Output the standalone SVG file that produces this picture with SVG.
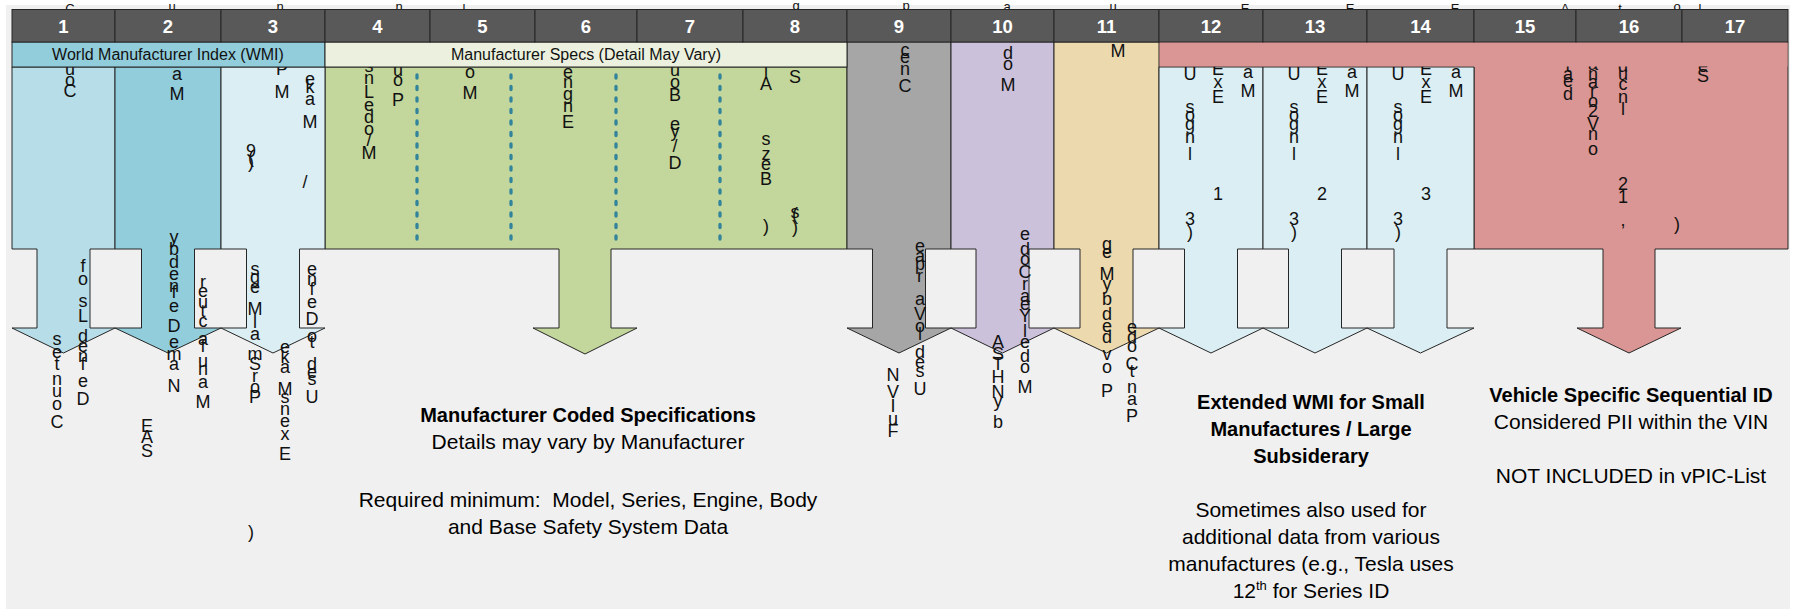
<svg xmlns="http://www.w3.org/2000/svg" width="1793" height="609" viewBox="0 0 1793 609">
<style>
.ar{stroke:#262626;stroke-width:1;stroke-linejoin:miter}
.g{font-family:'Liberation Sans',Arial,sans-serif;font-size:18px;fill:#111;text-anchor:middle}
.tf{font-size:13px}
.hd{fill:#595959;stroke:#262626;stroke-width:1}
.hn{font-family:'Liberation Sans',Arial,sans-serif;font-size:18.5px;font-weight:bold;fill:#fff;text-anchor:middle}
.lb{font-family:'Liberation Sans',Arial,sans-serif;font-size:16px;fill:#111;text-anchor:middle}
.t{font-family:'Liberation Sans',Arial,sans-serif;font-size:21px;fill:#000;text-anchor:middle}
.b{font-size:20px;font-weight:bold}
.dot{stroke:#31849b;stroke-width:3.3;stroke-linecap:round;stroke-dasharray:3 8.5;fill:none}
</style>
<rect id="background" x="6" y="5" width="1784" height="604" fill="#f0f0f0"/>
<g id="top-fragments">
<text class="g tf" x="70" y="13">C</text><text class="g tf" x="172" y="11">u</text><text class="g tf" x="280" y="11">n</text>
<text class="g tf" x="399" y="11">n</text><text class="g tf" x="464" y="13">l</text><text class="g tf" x="796" y="10">g</text>
<text class="g tf" x="906" y="10">p</text><text class="g tf" x="1007" y="11">a</text><text class="g tf" x="1113" y="11">u</text>
<text class="g tf" x="1245" y="13">E</text><text class="g tf" x="1350" y="13">E</text><text class="g tf" x="1455" y="13">E</text>
<text class="g tf" x="1565" y="13">A</text><text class="g tf" x="1620" y="13">t</text><text class="g tf" x="1677" y="11">o</text><text class="g tf" x="1700" y="13">l</text>
</g>
<g id="node-15-17">
<polygon class="ar" fill="#d99694" points="1159,42 1788,42 1788,249 1655,249 1655,328 1681,328 1629,353 1577,328 1603,328 1603,249 1474,249 1474,67 1159,67"/>
</g>
<g id="node-4-8">
<polygon class="ar" fill="#c3d69b" points="325,67 847,67 847,249 611,249 611,328 637,328 585,354 533,328 559,328 559,249 325,249"/>
</g>
<g id="node-1"><polygon class="ar" fill="#b7dde8" points="12,67 115,67 115,249 90,249 90,328 115,328 63.5,353 12,328 37,328 37,249 12,249"/></g>
<g id="node-2"><polygon class="ar" fill="#92cddc" points="115,67 221,67 221,249 194.5,249 194.5,328 221,328 168,353 115,328 141.5,328 141.5,249 115,249"/></g>
<g id="node-3"><polygon class="ar" fill="#dbeef3" points="221,67 325,67 325,249 299.5,249 299.5,328 325,328 273,353 221,328 246.5,328 246.5,249 221,249"/></g>
<g id="node-9"><polygon class="ar" fill="#a6a6a6" points="847,42 951,42 951,249 925.5,249 925.5,328 951,328 899,353 847,328 872.5,328 872.5,249 847,249"/></g>
<g id="node-10"><polygon class="ar" fill="#ccc1da" points="951,42 1054,42 1054,249 1029,249 1029,328 1054,328 1002.5,353 951,328 976,328 976,249 951,249"/></g>
<g id="node-11"><polygon class="ar" fill="#ecd9ae" points="1054,42 1159,42 1159,249 1133,249 1133,328 1159,328 1106.5,353 1054,328 1080,328 1080,249 1054,249"/></g>
<g id="node-12"><polygon class="ar" fill="#dbeef3" points="1159,67 1263,67 1263,249 1237.5,249 1237.5,328 1263,328 1211,353 1159,328 1184.5,328 1184.5,249 1159,249"/></g>
<g id="node-13"><polygon class="ar" fill="#dbeef3" points="1263,67 1367,67 1367,249 1341.5,249 1341.5,328 1367,328 1315,353 1263,328 1288.5,328 1288.5,249 1263,249"/></g>
<g id="node-14"><polygon class="ar" fill="#dbeef3" points="1367,67 1474,67 1474,249 1447,249 1447,328 1474,328 1420.5,353 1367,328 1394,328 1394,249 1367,249"/></g>
<g id="connectors">
<line class="dot" x1="417" y1="75" x2="417" y2="246"/>
<line class="dot" x1="511" y1="75" x2="511" y2="246"/>
<line class="dot" x1="616" y1="75" x2="616" y2="246"/>
<line class="dot" x1="720" y1="75" x2="720" y2="246"/>
</g>
<g id="fragments">
<text class="g" x="70 70 70" y="75 86 97">uoC</text>
<text class="g" x="177 177" y="80 100">aM</text>
<text class="g" x="282 282" y="75 98">PM</text>
<text class="g" x="310 310 310 310" y="85 93 105 128">ekaM</text>
<text class="g" x="251 251 251" y="163 157 168">(9)</text>
<text class="g" x="305" y="188">/</text>
<text class="g" x="174 174 174 174 174 174 174 174 174 174 174 174" y="243 255 268 280 292 298 312 332 348 360 370 392">ybdenfeDemaN</text>
<text class="g" x="57 57 57 57 57 57 57" y="345 358 370 385 397 410 428">setnuoC</text>
<text class="g" x="83 83 83 83 83 83 83 83 83 83" y="272 285 307 322 342 352 362 370 387 405">fosLdenfeD</text>
<text class="g" x="147 147 147" y="432 443 457">EAS</text>
<text class="g" x="203 203 203 203 203 203 203 203 203 203 203" y="288 297 308 317 327 345 352 367 375 388 408">reutcafunaM</text>
<text class="g" x="255 255 255 255 255 255 255 255 255 255 255" y="275 283 293 315 328 340 360 370 382 393 403">sgeMlamSroP</text>
<text class="g" x="285 285 285 285 285 285 285 285 285" y="353 363 373 395 403 415 427 440 460">ekaMsnexE</text>
<text class="g" x="312 312 312 312 312 312 312 312 312 312 312" y="275 285 295 308 325 342 348 370 378 385 403">enfeDotdesU</text>
<text class="g" x="251" y="538">)</text>
<text class="g" x="369 369 369 369 369 369 369 369" y="72 84 98 111 123 135 146 159">snLedo/M</text>
<text class="g" x="398 398 398" y="76 86 106">uoP</text>
<text class="g" x="470 470" y="78 99">oM</text>
<text class="g" x="568 568 568 568 568" y="78 88 100 112 128">engnE</text>
<text class="g" x="675 675 675 675 675 675 675" y="76 88 101 130 137 152 169">uoBey/D</text>
<text class="g" x="766 766 766 766 766 766 766" y="78 90 145 160 170 185 232">lAszeB)</text>
<text class="g" x="795 795 795 795" y="83 220 218 233">S(s)</text>
<text class="g" x="905 905 905 905" y="56 63 75 92">cenC</text>
<text class="g" x="1008 1008 1008" y="59 70 91">doM</text>
<text class="g" x="1118" y="57">M</text>
<text class="g" x="920 920 920 920 920 920 920 920 920 920 920 920" y="252 262 270 282 305 320 332 340 358 368 377 395">eapraVoldesU</text>
<text class="g" x="893 893 893 893 893" y="381 398 412 425 437">NVIuF</text>
<text class="g" x="1025 1025 1025 1025 1025 1025 1025 1025 1025 1025 1025 1025 1025" y="240 255 265 278 290 302 310 322 337 348 362 373 393">edoCraeYledoM</text>
<text class="g" x="998 998 998 998 998 998 998" y="348 360 370 383 398 407 428">ASTHNyb</text>
<text class="g" x="1107 1107 1107 1107 1107 1107 1107 1107 1107 1107 1107" y="250 258 280 290 305 320 332 343 360 373 397">geMybdedvoP</text>
<text class="g" x="1132 1132 1132 1132 1132 1132 1132 1132" y="333 343 352 370 377 393 405 422">edoCtnaP</text>
<text class="g" x="1190 1190 1190 1190 1190 1190 1190 1190" y="80 113 121 130 143 160 225 238">Usognl3)</text>
<text class="g" x="1218 1218 1218 1218" y="75 88 103 200">ExE1</text>
<text class="g" x="1248 1248" y="78 97">aM</text>
<text class="g" x="1294 1294 1294 1294 1294 1294 1294 1294" y="80 113 121 130 143 160 225 238">Usognl3)</text>
<text class="g" x="1322 1322 1322 1322" y="75 88 103 200">ExE2</text>
<text class="g" x="1352 1352" y="78 97">aM</text>
<text class="g" x="1398 1398 1398 1398 1398 1398 1398 1398" y="80 113 121 130 143 160 225 238">Usognl3)</text>
<text class="g" x="1426 1426 1426 1426" y="75 88 103 200">ExE3</text>
<text class="g" x="1456 1456" y="78 97">aM</text>
<text class="g" x="1568 1568 1568 1568 1568" y="57 72 80 87 100">Wtaed</text>
<text class="g" x="1593 1593 1593 1593 1593 1593 1593 1593 1593 1593 1593" y="53 58 70 80 88 97 107 117 130 140 155">SIanaro2Vno</text>
<text class="g" x="1623 1623 1623 1623 1623 1623 1623 1623 1623 1623" y="57 62 72 80 90 103 115 190 203 226">Neducnl21,</text>
<text class="g" x="1677 1677" y="62 230">U)</text>
<text class="g" x="1703 1703 1703 1703" y="54 58 72 82">ageS</text>
</g>
<g id="band-wmi">
<rect x="12" y="42" width="313" height="25" fill="#92cddc" stroke="#262626"/>
<text class="lb" x="168" y="60">World Manufacturer Index (WMI)</text>
</g>
<g id="band-specs">
<rect x="325" y="42" width="522" height="25" fill="#ebf1de" stroke="#262626"/>
<text class="lb" x="586" y="60">Manufacturer Specs (Detail May Vary)</text>
</g>
<g id="band-extended">
<rect x="1159.5" y="42" width="628" height="24.5" fill="#d99694"/>
</g>
<g id="header">
<rect class="hd" x="12" y="9.5" width="103" height="32.5"/><rect class="hd" x="115" y="9.5" width="106" height="32.5"/>
<rect class="hd" x="221" y="9.5" width="104" height="32.5"/><rect class="hd" x="325" y="9.5" width="105" height="32.5"/>
<rect class="hd" x="430" y="9.5" width="105" height="32.5"/><rect class="hd" x="535" y="9.5" width="102" height="32.5"/>
<rect class="hd" x="637" y="9.5" width="106" height="32.5"/><rect class="hd" x="743" y="9.5" width="104" height="32.5"/>
<rect class="hd" x="847" y="9.5" width="104" height="32.5"/><rect class="hd" x="951" y="9.5" width="103" height="32.5"/>
<rect class="hd" x="1054" y="9.5" width="105" height="32.5"/><rect class="hd" x="1159" y="9.5" width="104" height="32.5"/>
<rect class="hd" x="1263" y="9.5" width="104" height="32.5"/><rect class="hd" x="1367" y="9.5" width="107" height="32.5"/>
<rect class="hd" x="1474" y="9.5" width="102" height="32.5"/><rect class="hd" x="1576" y="9.5" width="106" height="32.5"/>
<rect class="hd" x="1682" y="9.5" width="106" height="32.5"/>
<text class="hn" x="63.5" y="32.5">1</text><text class="hn" x="168" y="32.5">2</text><text class="hn" x="273" y="32.5">3</text>
<text class="hn" x="377.5" y="32.5">4</text><text class="hn" x="482.5" y="32.5">5</text><text class="hn" x="586" y="32.5">6</text>
<text class="hn" x="690" y="32.5">7</text><text class="hn" x="795" y="32.5">8</text><text class="hn" x="899" y="32.5">9</text>
<text class="hn" x="1002.5" y="32.5">10</text><text class="hn" x="1106.5" y="32.5">11</text><text class="hn" x="1211" y="32.5">12</text>
<text class="hn" x="1315" y="32.5">13</text><text class="hn" x="1420.5" y="32.5">14</text><text class="hn" x="1525" y="32.5">15</text>
<text class="hn" x="1629" y="32.5">16</text><text class="hn" x="1735" y="32.5">17</text>
</g>
<g id="note-specs">
<text class="t b" x="588" y="422">Manufacturer Coded Specifications</text>
<text class="t" x="588" y="449">Details may vary by Manufacturer</text>
<text class="t" x="588" y="507" xml:space="preserve">Required minimum:  Model, Series, Engine, Body</text>
<text class="t" x="588" y="534">and Base Safety System Data</text>
</g>
<g id="note-extended">
<text class="t b" x="1311" y="409">Extended WMI for Small</text>
<text class="t b" x="1311" y="436">Manufactures / Large</text>
<text class="t b" x="1311" y="463">Subsiderary</text>
<text class="t" x="1311" y="517">Sometimes also used for</text>
<text class="t" x="1311" y="544">additional data from various</text>
<text class="t" x="1311" y="571">manufactures (e.g., Tesla uses</text>
<text class="t" x="1311" y="598">12<tspan font-size="13" dy="-8">th</tspan><tspan dy="8"> for Series ID</tspan></text>
</g>
<g id="note-vehicle">
<text class="t b" x="1631" y="402">Vehicle Specific Sequential ID</text>
<text class="t" x="1631" y="429">Considered PII within the VIN</text>
<text class="t" x="1631" y="483">NOT INCLUDED in vPIC-List</text>
</g>
</svg>
